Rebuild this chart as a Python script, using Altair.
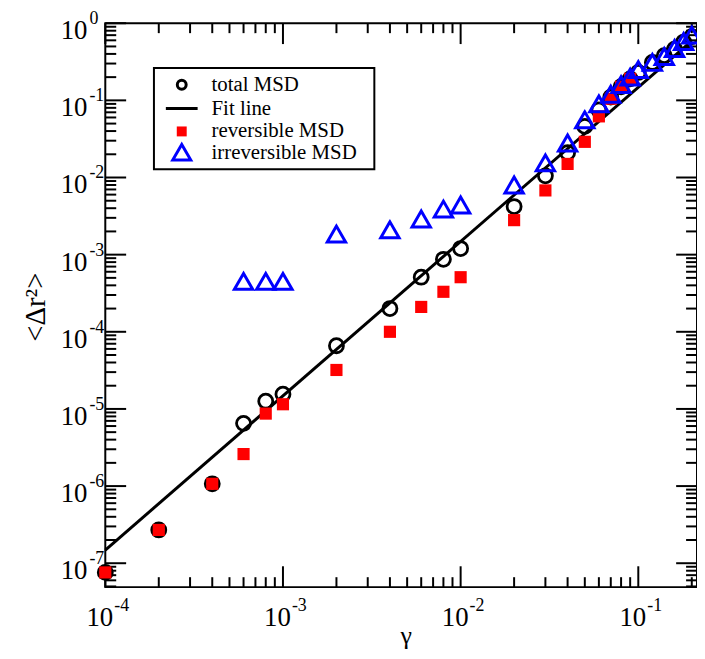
import altair as alt
import pandas as pd

# ---------------- data ----------------
gamma = [1e-4, 2e-4, 4e-4, 6e-4, 8e-4, 1e-3, 2e-3, 4e-3, 6e-3, 8e-3, 1e-2,
         2e-2, 3e-2, 4e-2, 5e-2, 6e-2, 7e-2, 8e-2, 9e-2, 0.1, 0.12, 0.14, 0.16, 0.18, 0.2]
total_msd = [7.6e-8, 2.7e-7, 1.07e-6, 6.5e-6, 1.26e-5, 1.55e-5, 6.6e-5, 2.0e-4, 5.1e-4, 8.7e-4, 1.2e-3,
             4.2e-3, 1.05e-2, 0.021, 0.046, 0.075, 0.11, 0.15, 0.19, 0.23, 0.31, 0.38, 0.46, 0.57, 0.67]
rev_gamma = [1e-4, 2e-4, 4e-4, 6e-4, 8e-4, 1e-3, 2e-3, 4e-3, 6e-3, 8e-3, 1e-2,
             2e-2, 3e-2, 4e-2, 5e-2, 6e-2, 7e-2, 8e-2, 9e-2]
reversible_msd = [7.6e-8, 2.7e-7, 1.07e-6, 2.6e-6, 8.7e-6, 1.15e-5, 3.2e-5, 1.0e-4, 2.1e-4, 3.3e-4, 5.1e-4,
                  2.8e-3, 6.8e-3, 0.015, 0.029, 0.062, 0.105, 0.15, 0.19]
irr_gamma = [6e-4, 8e-4, 1e-3, 2e-3, 4e-3, 6e-3, 8e-3, 1e-2,
             2e-2, 3e-2, 4e-2, 5e-2, 6e-2, 7e-2, 8e-2, 9e-2, 0.1, 0.12, 0.14, 0.16, 0.18, 0.2]
irreversible_msd = [4.5e-4, 4.5e-4, 4.5e-4, 1.85e-3, 2.1e-3, 2.9e-3, 3.9e-3, 4.4e-3,
                    8.0e-3, 0.0155, 0.028, 0.056, 0.09, 0.12, 0.16, 0.2, 0.25, 0.31, 0.37, 0.47, 0.58, 0.7]
fit_gamma = [1e-4, 0.2]
fit_msd = [1.48e-7, 0.592]

x_major = [1e-4, 1e-3, 1e-2, 1e-1]
x_exp = ["-4", "-3", "-2", "-1"]
y_major = [1e-7, 1e-6, 1e-5, 1e-4, 1e-3, 1e-2, 1e-1, 1.0]
y_exp = ["-7", "-6", "-5", "-4", "-3", "-2", "-1", "0"]
x_minor = [m * 10.0 ** k for k in (-4, -3, -2) for m in range(2, 10)] + [0.2]
y_minor = [m * 10.0 ** -8 for m in range(5, 10)] + \
          [m * 10.0 ** k for k in range(-7, 0) for m in range(2, 10)]

legend_labels = ["total MSD", "Fit line", "reversible MSD", "irreversible MSD"]

# ---------------- layout ----------------
W, H = 596, 568
FONT = "Liberation Serif"
xs = alt.Scale(type="log", domain=[1e-4, 0.214])
ys = alt.Scale(type="log", domain=[4.9e-8, 1.0])


def X():
    return alt.X("x:Q", scale=xs, axis=None)


def Y():
    return alt.Y("y:Q", scale=ys, axis=None)


df_total = pd.DataFrame({"x": gamma, "y": total_msd})
df_rev = pd.DataFrame({"x": rev_gamma, "y": reversible_msd})
df_irr = pd.DataFrame({"x": irr_gamma, "y": irreversible_msd})
df_fit = pd.DataFrame({"x": fit_gamma, "y": fit_msd})
df_xmaj = pd.DataFrame({"x": x_major, "e": x_exp})
df_ymaj = pd.DataFrame({"y": y_major, "e": y_exp})
df_xmin = pd.DataFrame({"x": x_minor})
df_ymin = pd.DataFrame({"y": y_minor})
one = pd.DataFrame({"a": [0]})

layers = []

# ticks (inward, all four sides)
for d, L in ((df_xmaj, 21), (df_xmin, 10)):
    layers.append(alt.Chart(d).mark_rule(color="black", strokeWidth=2).encode(
        x=X(), y=alt.value(H), y2=alt.value(H - L)))
    layers.append(alt.Chart(d).mark_rule(color="black", strokeWidth=2).encode(
        x=X(), y=alt.value(0), y2=alt.value(L)))
for d, L in ((df_ymaj, 21), (df_ymin, 11)):
    layers.append(alt.Chart(d).mark_rule(color="black", strokeWidth=2).encode(
        y=Y(), x=alt.value(0), x2=alt.value(L)))
    layers.append(alt.Chart(d).mark_rule(color="black", strokeWidth=2).encode(
        y=Y(), x=alt.value(W), x2=alt.value(W - L)))

# tick labels
layers.append(alt.Chart(df_xmaj).mark_text(font=FONT, fontSize=27, align="right", baseline="alphabetic", dx=8).encode(
    x=X(), y=alt.value(H + 39), text=alt.value("10")))
layers.append(alt.Chart(df_xmaj).mark_text(font=FONT, fontSize=18, align="left", baseline="alphabetic", dx=9).encode(
    x=X(), y=alt.value(H + 24), text="e:N"))
layers.append(alt.Chart(df_ymaj).mark_text(font=FONT, fontSize=27, align="right", baseline="alphabetic", dy=16).encode(
    y=Y(), x=alt.value(-18), text=alt.value("10")))
layers.append(alt.Chart(df_ymaj).mark_text(font=FONT, fontSize=18, align="left", baseline="alphabetic", dy=1).encode(
    y=Y(), x=alt.value(-16), text="e:N"))

# axis titles
layers.append(alt.Chart(one).mark_text(font=FONT, fontSize=29, angle=270, align="center", baseline="middle").encode(
    x=alt.value(-70), y=alt.value(286), text=alt.value("<Δr²>")))
layers.append(alt.Chart(one).mark_text(font=FONT, fontSize=26, align="center", baseline="alphabetic").encode(
    x=alt.value(303), y=alt.value(625), text=alt.value("γ")))

# data
layers.append(alt.Chart(df_fit).mark_line(color="black", strokeWidth=3).encode(x=X(), y=Y()))
layers.append(alt.Chart(df_total).mark_point(shape="circle", size=200, color="black", strokeWidth=2.8,
                                              filled=False, opacity=1).encode(x=X(), y=Y()))
layers.append(alt.Chart(df_rev).mark_point(shape="square", size=150, color="#ff0000", filled=True,
                                            opacity=1).encode(x=X(), y=Y()))
layers.append(alt.Chart(df_irr).mark_point(shape="triangle-up", size=340, color="#0000ff", strokeWidth=3,
                                            filled=False, opacity=1).encode(x=X(), y=Y()))

# legend
layers.append(alt.Chart(one).mark_rect(fill="white", stroke="black", strokeWidth=2).encode(
    x=alt.value(49), x2=alt.value(271), y=alt.value(45), y2=alt.value(147)))
layers.append(alt.Chart(one).mark_point(shape="circle", size=80, color="black", strokeWidth=3,
                                         filled=False, opacity=1).encode(x=alt.value(77), y=alt.value(62)))
layers.append(alt.Chart(one).mark_rule(color="black", strokeWidth=3).encode(
    x=alt.value(61), x2=alt.value(93), y=alt.value(86)))
layers.append(alt.Chart(one).mark_point(shape="square", size=100, color="#ff0000", filled=True,
                                         opacity=1).encode(x=alt.value(77), y=alt.value(109)))
layers.append(alt.Chart(one).mark_point(shape="triangle-up", size=330, color="#0000ff", strokeWidth=3,
                                         filled=False, opacity=1).encode(x=alt.value(77), y=alt.value(130)))
for lab, yy in zip(legend_labels, (62, 86, 109, 131)):
    layers.append(alt.Chart(one).mark_text(font=FONT, fontSize=21, align="left", baseline="middle").encode(
        x=alt.value(107), y=alt.value(yy), text=alt.value(lab)))

chart = alt.layer(*layers).properties(
    width=W, height=H,
    autosize=alt.AutoSizeParams(type="none"),
    padding={"left": 98, "top": 13, "right": 0, "bottom": 60},
).configure_view(stroke="black", strokeWidth=2)

chart.save("out.html", embed_options={"renderer": "svg", "actions": False})
